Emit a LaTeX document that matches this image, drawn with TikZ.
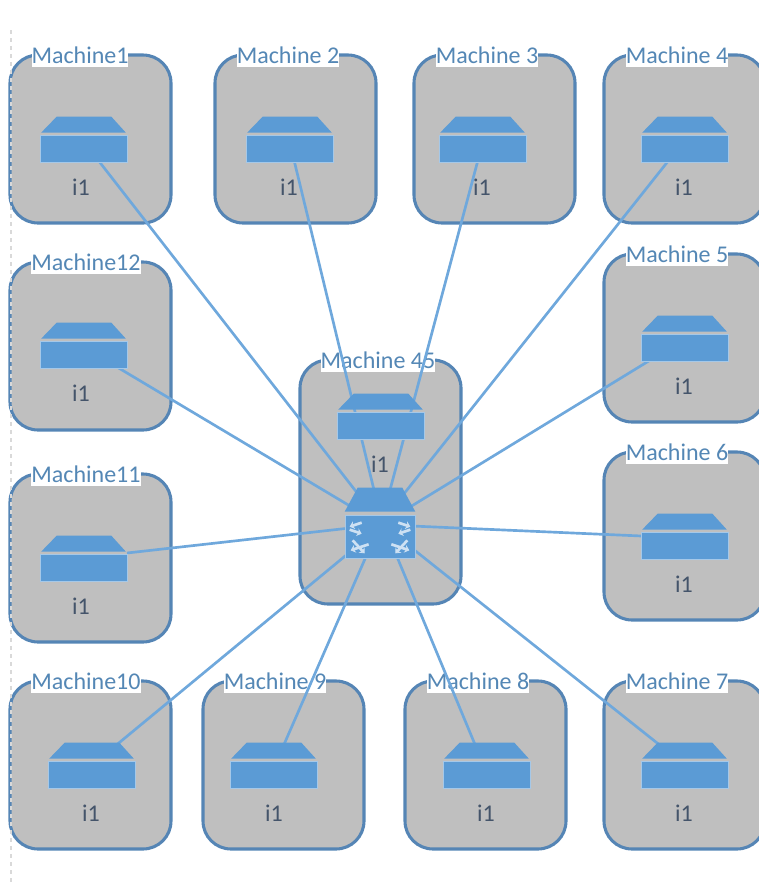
\documentclass[tikz,border=0pt]{standalone}
\usepackage{fontspec}
\setmainfont{Carlito}
\usetikzlibrary{backgrounds,arrows.meta}
\definecolor{boxgray}{HTML}{BFBFBF}
\definecolor{boxline}{HTML}{5585B5}
\definecolor{iconblue}{HTML}{5B9BD5}
\definecolor{linkblue}{HTML}{6FA8DC}
\definecolor{titleblue}{HTML}{5487B5}
\definecolor{nicslate}{HTML}{44546A}
\tikzset{
  machine/.style={draw=boxline,line width=2.3pt,fill=boxgray,rounded corners=21pt,anchor=north west,inner sep=0pt,outer sep=0pt,minimum width=120.75pt},
  boxtitle/.style={fill=white,text=titleblue,inner sep=0pt,minimum height=18pt,font=\fontsize{18}{20}\selectfont},
  disk/.style={draw=iconblue!55!white,line width=.5pt,fill=iconblue,inner sep=0pt,minimum width=65.25pt,minimum height=20.25pt},
  nic/.style={text=nicslate,inner sep=0pt,font=\fontsize{18}{20}\selectfont},
  link/.style={linkblue,line width=2pt},
  hubarrow/.style={-{Stealth[length=3.5pt,width=6pt]},white!70!iconblue,line width=2pt}
}
% #1 id, #2 left, #3 top, #4 height, #5 title, #6 title x, #7 disk x, #8 disk y, #9 i1 x
\newcommand{\machinebox}[9]{
  \begin{pgfonlayer}{background}
    \node[machine,minimum height=#4*0.75pt] (m#1) at (#2,#3) {};
    \node[boxtitle] (t#1) at (#6,#3) {#5};
  \end{pgfonlayer}
  \node[disk] (d#1) at (#7,#8) {};
  \fill[iconblue] ([shift={(1.5,-2)}]d#1.north west) -- ([shift={(17,-18)}]d#1.north west) -- ([shift={(-16,-18)}]d#1.north east) -- ([shift={(-1.5,-2)}]d#1.north east) -- cycle;
  \node[nic] (n#1) at (#9,#8+39) {i1};
}

\begin{document}
\begin{tikzpicture}[x=0.75pt,y=-0.75pt]
  \useasboundingbox (0,0) rectangle (759,883);
  \draw[black!15,dashed,line width=.8pt] (11,30) -- (11,883);

  \machinebox{1}{10}{55}{168}{Machine1}{80}{83.5}{148.5}{81}
  \machinebox{2}{215}{55}{168}{Machine 2}{288}{289.5}{148.5}{289}
  \machinebox{3}{414}{55}{168}{Machine 3}{487}{482.5}{148.5}{482}
  \machinebox{4}{604}{55}{168}{Machine 4}{677}{684.5}{148.5}{684}
  \machinebox{5}{604}{254}{168}{Machine 5}{677}{684.5}{347.5}{684}
  \machinebox{6}{604}{452}{168}{Machine 6}{677}{684.5}{545.5}{684}
  \machinebox{7}{604}{681}{168}{Machine 7}{677}{684.5}{774.5}{684}
  \machinebox{8}{405}{681}{168}{Machine 8}{478}{486.5}{774.5}{486}
  \machinebox{9}{203}{681}{168}{Machine 9}{275}{273.5}{774.5}{274}
  \machinebox{10}{10}{681}{168}{Machine10}{86}{91.5}{774.5}{91}
  \machinebox{11}{10}{474}{168}{Machine11}{86}{83.5}{567.5}{81}
  \machinebox{12}{10}{262}{168}{Machine12}{86}{83.5}{354.5}{81}
  \machinebox{45}{300}{360}{244}{Machine 45}{378}{380.5}{425.5}{380}

  % switch in the middle
  \node[disk,minimum width=52.5pt,minimum height=32.25pt] (hub) at (380,536.5) {};
  \fill[iconblue] ([shift={(0,-3)}]hub.north west) -- ([shift={(13,-27)}]hub.north west) -- ([shift={(-13,-27)}]hub.north east) -- ([shift={(0,-3)}]hub.north east) -- cycle;
  \draw[hubarrow] ([shift={(17,8)}]hub.north west) -- ([shift={(5,12)}]hub.north west);
  \draw[hubarrow] ([shift={(5,15)}]hub.north west) -- ([shift={(17,19)}]hub.north west);
  \draw[hubarrow] ([shift={(-17,8)}]hub.north east) -- ([shift={(-5,12)}]hub.north east);
  \draw[hubarrow] ([shift={(-5,15)}]hub.north east) -- ([shift={(-17,19)}]hub.north east);
  \draw[hubarrow] ([shift={(24,-14)}]hub.south west) -- ([shift={(6,-8)}]hub.south west);
  \draw[hubarrow] ([shift={(8,-18)}]hub.south west) -- ([shift={(20,-5)}]hub.south west);
  \draw[hubarrow] ([shift={(-24,-14)}]hub.south east) -- ([shift={(-6,-8)}]hub.south east);
  \draw[hubarrow] ([shift={(-8,-18)}]hub.south east) -- ([shift={(-20,-5)}]hub.south east);

  \begin{pgfonlayer}{background}
    \foreach \id/\dx/\dy/\hx/\hy in {1/14.5/11.5/-22/-42.5, 2/4.5/11.5/-6/-46.5, 3/-4.5/11.5/10/-46.5, 4/-15.5/11.5/23/-41.5,
      5/-32.5/11.5/30/-29.5, 6/-43/-9.5/32/-10.5, 7/-25.5/-30/28/8.5, 8/-11.5/-30/15/15.5,
      9/10.5/-30/-12/15.5, 10/25.5/-30/-30/15.5, 11/43.5/-14.5/-30/-8.5, 12/33.5/12.5/-30/-30.5}
      \draw[link] ([shift={(\dx,\dy)}]d\id.center) -- ([shift={(\hx,\hy)}]hub.center);
  \end{pgfonlayer}
\end{tikzpicture}
\end{document}
